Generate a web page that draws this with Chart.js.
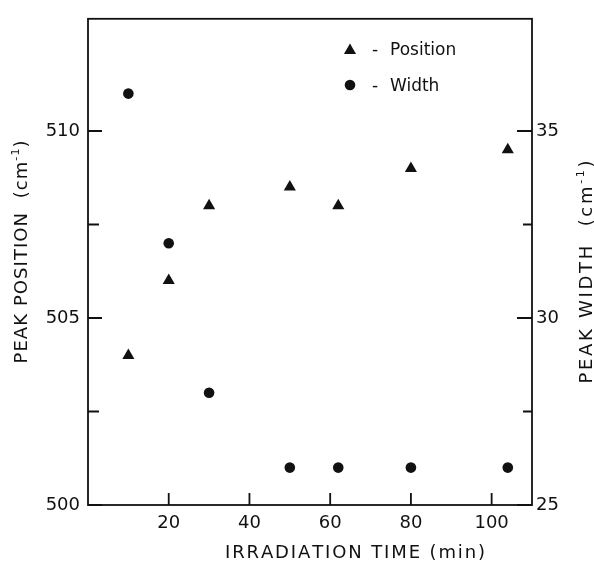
<!DOCTYPE html>
<html>
<head>
<meta charset="utf-8">
<script src="https://cdn.jsdelivr.net/npm/chart.js@4.4.1/dist/chart.umd.min.js"></script>
<style>
  html, body { margin: 0; padding: 0; background: #fff; }
  canvas { display: block; }
</style>
</head>
<body>
<canvas id="c" width="594" height="562"></canvas>
<script>
// ---- data ----
const irradiationTime = [10, 20, 30, 50, 62, 80, 104];          // min
const peakPosition    = [504, 506, 508, 508.5, 508, 509, 509.5]; // cm-1 (left axis)
const peakWidth       = [36, 32, 28, 26, 26, 26, 26];           // cm-1 (right axis)

const xTicks        = [20, 40, 60, 80, 100];
const yLeftTicks    = [500, 505, 510];
const yLeftMinor    = [502.5, 507.5];
const yRightTicks   = [25, 30, 35];
const yRightMinor   = [27.5, 32.5];

const xTitle     = 'IRRADIATION TIME (min)';
const yLeftTitle = [['PEAK POSITION  (cm', 0], ['-1', 1], [')', 0]];
const yRightTitle= [['PEAK WIDTH  (cm', 0], ['-1', 1], [')', 0]];
const legendItems = [['Position', 'triangle'], ['Width', 'circle']];

const INK = '#111';
const FONT = 'DejaVu Sans';

function drawTriangle(ctx, x, y, r) {
  ctx.beginPath();
  ctx.moveTo(x, y - r);
  ctx.lineTo(x + 0.866 * r, y + 0.5 * r);
  ctx.lineTo(x - 0.866 * r, y + 0.5 * r);
  ctx.closePath();
  ctx.fill();
}
function drawCircle(ctx, x, y, r) {
  ctx.beginPath();
  ctx.arc(x, y, r, 0, Math.PI * 2);
  ctx.fill();
}

function richWidth(ctx, segs, size, spacing) {
  let w = 0, n = 0;
  for (const [t, sup] of segs) {
    ctx.font = (sup ? Math.round(size * 0.62) : size) + 'px "' + FONT + '"';
    for (const ch of t) { w += ctx.measureText(ch).width; n++; }
  }
  return { w: w + spacing * (n - 1), n };
}
function drawRichFitted(ctx, segs, size, target) {
  const base = richWidth(ctx, segs, size, 0);
  const spacing = (target - base.w) / (base.n - 1);
  let x = -target / 2;
  ctx.textBaseline = 'alphabetic';
  ctx.textAlign = 'left';
  for (const [t, sup] of segs) {
    ctx.font = (sup ? Math.round(size * 0.62) : size) + 'px "' + FONT + '"';
    for (const ch of t) {
      ctx.fillText(ch, x, sup ? -size * 0.42 : 0);
      x += ctx.measureText(ch).width + spacing;
    }
  }
}

const decor = {
  id: 'decor',
  afterDraw(chart) {
    const { ctx, chartArea: a, scales } = chart;
    const xs = scales.x, yl = scales.y, yr = scales.y2;
    ctx.save();
    ctx.strokeStyle = INK;
    ctx.fillStyle = INK;
    ctx.lineWidth = 1.8;
    ctx.strokeRect(a.left, a.top, a.right - a.left, a.bottom - a.top);

    ctx.beginPath();
    for (const v of xTicks) {
      const px = xs.getPixelForValue(v);
      ctx.moveTo(px, a.bottom); ctx.lineTo(px, a.bottom - 12);
    }
    for (const v of yLeftTicks) {
      const py = yl.getPixelForValue(v);
      ctx.moveTo(a.left, py); ctx.lineTo(a.left + 14, py);
    }
    for (const v of yLeftMinor) {
      const py = yl.getPixelForValue(v);
      ctx.moveTo(a.left, py); ctx.lineTo(a.left + 11, py);
    }
    for (const v of yRightTicks) {
      const py = yr.getPixelForValue(v);
      ctx.moveTo(a.right, py); ctx.lineTo(a.right - 15, py);
    }
    for (const v of yRightMinor) {
      const py = yr.getPixelForValue(v);
      ctx.moveTo(a.right, py); ctx.lineTo(a.right - 9, py);
    }
    ctx.stroke();

    // x title
    ctx.save();
    ctx.translate(355, 558);
    drawRichFitted(ctx, [[xTitle, 0]], 18, 260);
    ctx.restore();

    // left title
    ctx.save();
    ctx.translate(27, 252);
    ctx.rotate(-Math.PI / 2);
    drawRichFitted(ctx, yLeftTitle, 18, 223);
    ctx.restore();

    // right title
    ctx.save();
    ctx.translate(592, 272);
    ctx.rotate(-Math.PI / 2);
    drawRichFitted(ctx, yRightTitle, 18, 223);
    ctx.restore();

    // legend
    ctx.font = '17px "' + FONT + '"';
    ctx.textBaseline = 'alphabetic';
    ctx.textAlign = 'left';
    const rows = [55, 91];
    legendItems.forEach(([label, shape], i) => {
      const cy = rows[i] - 6;
      if (shape === 'triangle') drawTriangle(ctx, 350, cy + 1.5, 7);
      else drawCircle(ctx, 350, cy, 5.3);
      ctx.fillText('-', 372, rows[i]);
      ctx.fillText(label, 390, rows[i]);
    });
    ctx.restore();
  }
};

new Chart(document.getElementById('c'), {
  type: 'scatter',
  data: {
    datasets: [
      {
        label: 'Position',
        data: irradiationTime.map((t, i) => ({ x: t, y: peakPosition[i] })),
        yAxisID: 'y',
        pointStyle: 'triangle',
        pointRadius: 7,
        backgroundColor: INK,
        borderColor: INK,
        borderWidth: 0
      },
      {
        label: 'Width',
        data: irradiationTime.map((t, i) => ({ x: t, y: peakWidth[i] })),
        yAxisID: 'y2',
        pointStyle: 'circle',
        pointRadius: 5.3,
        backgroundColor: INK,
        borderColor: INK,
        borderWidth: 0
      }
    ]
  },
  options: {
    responsive: false,
    animation: false,
    layout: { padding: { top: 10, left: 0, right: 0, bottom: 0 } },
    plugins: { legend: { display: false }, tooltip: { enabled: false } },
    scales: {
      x: {
        type: 'linear', min: 0, max: 110,
        afterBuildTicks: s => { s.ticks = xTicks.map(v => ({ value: v })); },
        afterFit: s => { s.height = 57; },
        grid: { display: false, drawTicks: false },
        border: { display: false },
        ticks: { color: INK, padding: 8, font: { family: FONT, size: 18 } }
      },
      y: {
        type: 'linear', position: 'left', min: 500, max: 513,
        afterBuildTicks: s => { s.ticks = yLeftTicks.map(v => ({ value: v })); },
        afterFit: s => { s.width = 88; },
        grid: { display: false, drawTicks: false },
        border: { display: false },
        ticks: { color: INK, padding: 8, font: { family: FONT, size: 18 } }
      },
      y2: {
        type: 'linear', position: 'right', min: 25, max: 38,
        afterBuildTicks: s => { s.ticks = yRightTicks.map(v => ({ value: v })); },
        afterFit: s => { s.width = 62; },
        grid: { display: false, drawTicks: false },
        border: { display: false },
        ticks: { color: INK, padding: 4, font: { family: FONT, size: 18 } }
      }
    }
  },
  plugins: [decor]
});
</script>
</body>
</html>
